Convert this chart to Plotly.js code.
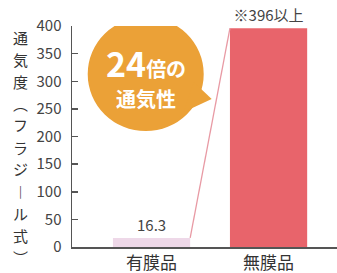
<!DOCTYPE html>
<html><head><meta charset="utf-8">
<script src="https://cdn.plot.ly/plotly-3.0.1.min.js"></script>
<style>html,body{margin:0;padding:0;background:#fff}#c{width:337px;height:273px}</style>
</head><body><div id="c"></div>
<script>
const categories = ['有膜品', '無膜品'];
const values = [16.3, 396];
const valueLabels = ['16.3', '※396以上'];
const yTicks = [0, 50, 100, 150, 200, 250, 300, 350, 400];
const yTitle = '通気度︵フラジ︱ル式︶';
const bubbleLine1 = '24';
const bubbleLine1b = '倍の';
const bubbleLine2 = '通気性';

const FONT = '"Noto Sans CJK JP", "Noto Sans", sans-serif';
const barWidth = 0.66;
const xs = categories.map((_, i) => i);

const traces = [
  {
    type: 'bar', x: xs, y: values, width: barWidth,
    marker: {color: ['#eed8e8', '#e8646b'], line: {width: 0}},
    text: valueLabels, textposition: 'outside', cliponaxis: false, constraintext: 'none',
    textfont: {size: 15, color: '#444', family: FONT},
    hoverinfo: 'none'
  },
  {
    type: 'scatter', mode: 'lines',
    x: [xs[0] + barWidth / 2, xs[1] - barWidth / 2],
    y: [values[0], values[1]],
    line: {color: '#e89aa4', width: 1.3},
    hoverinfo: 'none'
  }
];

const H = 273, T = 26, B = 26, PH = H - T - B;
const titleAnns = yTitle.split('').map((ch, i) => {
  const py = 37 + i * 22;
  return {xref: 'paper', yref: 'paper', x: -0.195, y: (H - B - py) / PH,
    xanchor: 'center', yanchor: 'middle', text: ch, showarrow: false, borderpad: 0,
    font: {size: 15, color: '#333', family: FONT}};
});

const layout = {
  width: 337, height: 273,
  margin: {l: 72, r: 0, t: T, b: B},
  paper_bgcolor: '#fff', plot_bgcolor: '#fff',
  showlegend: false,
  font: {family: FONT},
  xaxis: {
    range: [-0.68, 1.585], tickvals: xs, ticktext: categories,
    showgrid: false, zeroline: false, showline: true, linecolor: '#555', linewidth: 1.5,
    ticks: '', tickfont: {size: 17, color: '#333', family: FONT}, fixedrange: true
  },
  yaxis: {
    range: [0, 400], tickvals: yTicks, showgrid: false, zeroline: false,
    showline: true, linecolor: '#555', linewidth: 1.5,
    ticks: 'inside', ticklen: 6, tickcolor: '#555', tickwidth: 1.5,
    tickfont: {size: 15, color: '#444', family: FONT}, ticklabelstandoff: 6, fixedrange: true
  },
  shapes: [
    {type: 'circle', xref: 'x', yref: 'y', xsizemode: 'pixel', ysizemode: 'pixel',
     xanchor: -0.05, yanchor: 313, x0: -58, x1: 58, y0: -57, y1: 57,
     fillcolor: '#eba137', line: {width: 0}, layer: 'above'},
    {type: 'path', xref: 'x', yref: 'y', xsizemode: 'pixel', ysizemode: 'pixel',
     xanchor: -0.05, yanchor: 313, path: 'M 48,-8 L 66,-25 L 38,-38 Z',
     fillcolor: '#eba137', line: {width: 0}, layer: 'above'}
  ],
  annotations: titleAnns.concat([
    {xref: 'x', yref: 'y', x: -0.05, y: 313, yshift: 12, xshift: 0, showarrow: false, borderpad: 0,
     text: '<b>' + bubbleLine1 + '</b><b><span style="font-size:20px">' + bubbleLine1b + '</span></b>',
     font: {size: 34, color: '#fff', family: FONT}},
    {xref: 'x', yref: 'y', x: -0.05, y: 313, yshift: -24, xshift: 0, showarrow: false, borderpad: 0,
     text: '<b>' + bubbleLine2 + '</b>',
     font: {size: 20, color: '#fff', family: FONT}}
  ])
};

Plotly.newPlot('c', traces, layout, {staticPlot: true, displayModeBar: false});
</script></body></html>
